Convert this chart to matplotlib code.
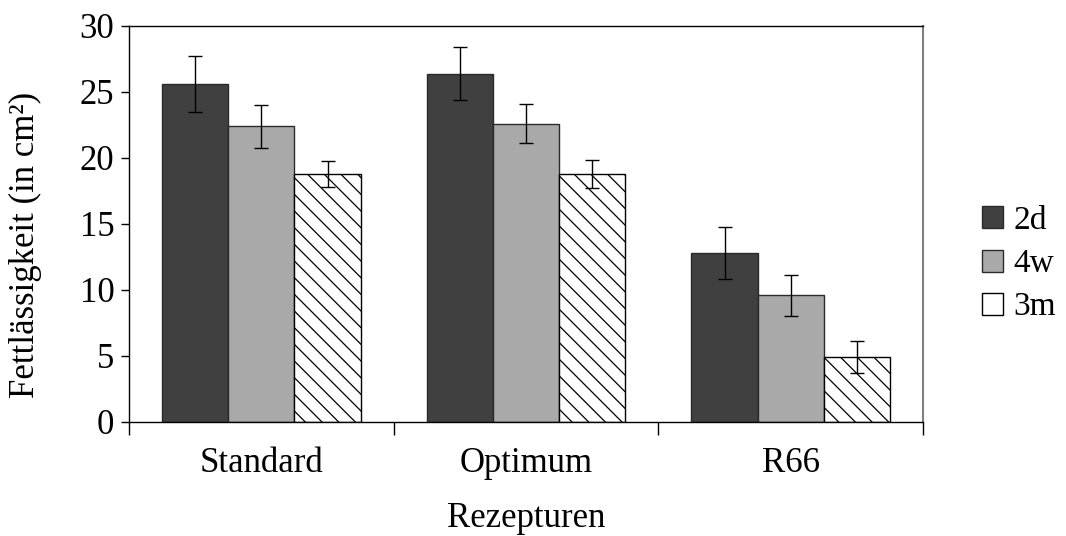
import matplotlib
matplotlib.use("Agg")
import matplotlib.pyplot as plt
import numpy as np
from matplotlib.patches import Patch

categories = ["Standard", "Optimum", "R66"]
series = ["2d", "4w", "3m"]
v_2d = [25.6, 26.4, 12.8]
v_4w = [22.4, 22.6, 9.6]
v_3m = [18.8, 18.8, 4.95]
e_2d = [2.15, 2.0, 1.95]
e_4w = [1.65, 1.5, 1.55]
e_3m = [1.0, 1.05, 1.2]
yticks = [0, 5, 10, 15, 20, 25, 30]

plt.rcParams['font.family'] = ['Liberation Serif', 'DejaVu Serif']

fig = plt.figure(figsize=(10.66, 5.36), dpi=100)
ax = fig.add_axes([129/1066, 1-422/536, (923-129)/1066, (422-26)/536])

x = np.arange(len(categories))
w = 0.25
styles = [dict(facecolor='#404040', edgecolor='#2a2a2a', hatch=None),
          dict(facecolor='#a9a9a9', edgecolor='#2a2a2a', hatch=None),
          dict(facecolor='white', edgecolor='black', hatch='\\\\')]
vals = [v_2d, v_4w, v_3m]
errs = [e_2d, e_4w, e_3m]
plt.rcParams['hatch.linewidth'] = 0.9
for i, (v, e, st) in enumerate(zip(vals, errs, styles)):
    ax.bar(x + (i - 1) * w, v, width=w, linewidth=1.0, zorder=2, **st)
    ax.errorbar(x + (i - 1) * w, v, yerr=e, fmt='none', ecolor='black',
                elinewidth=1.0, capsize=4.7, capthick=1.0, zorder=3)

ax.set_xlim(-0.5, 2.5)
ax.set_ylim(0, 30)
ax.set_yticks(yticks)
ax.tick_params(axis='y', direction='out', length=6, width=1, labelsize=25, pad=4.5)
ax.set_xticks(x)
ax.set_xticklabels(categories)
ax.tick_params(axis='x', which='major', length=0, labelsize=25, pad=18)
ax.set_xticks([-0.5, 0.5, 1.5, 2.5], minor=True)
ax.tick_params(axis='x', which='minor', direction='out', length=9, width=1)

for s in ['left', 'bottom', 'top']:
    ax.spines[s].set_color('black')
    ax.spines[s].set_linewidth(1.0)
ax.spines['right'].set_color('#808080')
ax.spines['right'].set_linewidth(1.5)

ax.set_ylabel("Fettlässigkeit (in cm²)", fontsize=25)
ax.yaxis.set_label_coords(-0.1096, 0.447)
ax.set_xlabel("Rezepturen", fontsize=25, labelpad=16)

handles = [Patch(facecolor='#404040', edgecolor='#2a2a2a', linewidth=1),
           Patch(facecolor='#a9a9a9', edgecolor='#2a2a2a', linewidth=1),
           Patch(facecolor='white', edgecolor='black', linewidth=1)]
fig.legend(handles, series, loc='center left', bbox_to_anchor=(982/1066, 1-264/536),
           frameon=False, fontsize=24, handlelength=0.64, handleheight=0.64,
           handletextpad=0.3, labelspacing=0.38, borderaxespad=0, borderpad=0)

fig.savefig("out.png", dpi=100)
